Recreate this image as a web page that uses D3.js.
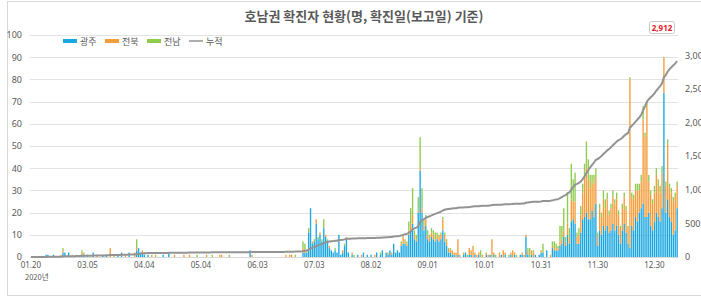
<!DOCTYPE html>
<html>
<head>
<meta charset="utf-8">
<script src="https://cdn.jsdelivr.net/npm/d3@7"></script>
<style>
  body { margin: 0; background: #fff; }
  text { font-family: "Noto Sans CJK KR", "Noto Sans", sans-serif; }
</style>
</head>
<body>
<div id="chart"></div>
<script>
// daily confirmed cases (categories are report days, index based)
var gwangju = [
  0,0,0,0,0,0,0,0,1,1, 0,0,1,0,0,0,0,2,2,0,
  2,0,0,0,0,0,0,1,1,0, 1,0,0,2,0,0,0,0,1,0,
  1,0,0,0,0,0,1,0,2,0, 0,0,2,0,0,0,3,4,2,2,
  1,0,1,0,0,0,0,0,0,0, 1,0,0,2,0,0,0,0,0,0,
  0,0,0,0,0,0,0,0,0,0, 0,0,0,0,0,0,0,0,0,0,
  0,0,0,0,0,0,0,0,0,0, 0,0,0,0,0,0,3,0,0,0,
  0,0,0,0,0,0,0,0,0,0, 0,0,0,0,0,0,0,0,0,0,
  0,0,0,0,
  2,2,2,11,22,6,7,15,8,10, 7,13,9,7,4,3,2,3,2,10,
  1,2,5,8,2,0,1,0,0,1, 0,0,2,0,1,0,1,0,0,2, 0,1,3,0,2,1,
  3,1,6,2,3,2,5,6,6,5, 10,12,15,8,7,20,39,20,12,14,
  8,7,9,8,7,8,7,8,12,7, 5,2,2,1,1,0,1,0,0,1,
  2,0,1,1,0,1,0,1,0,0, 0,1,0,1,0,1,0,0,0,1,
  0,1,0,0,1,0,1,0,0,1, 1,0,9,1,0,1,0,1,0,1,
  2,2,0,3,0,0,4,3,3,3, 5,6,9,5,10,6,16,17,15,6,
  6,11,17,18,20,17,17,21,18,24, 5,12,10,14,12,14,11,12,15,12,
  14,10,6,12,15,11,6,4,14,12, 18,16,20,22,24,18,18,20,14,12,
  16,20,18,16,22,74,20,26,18,16, 10,12,22
];
var jeonbuk = [
  0,0,0,0,0,0,0,0,0,0, 0,0,0,0,0,0,1,1,0,0,
  0,0,1,0,0,0,0,1,0,0, 0,0,0,0,0,1,0,0,0,0,
  0,0,4,0,0,0,0,0,0,0, 1,0,0,0,0,2,1,0,0,1,
  0,0,0,0,1,0,0,0,0,0, 0,0,0,0,0,0,1,0,0,0,
  0,1,0,0,1,0,0,0,0,0, 0,0,0,1,0,0,0,0,0,0,
  1,1,0,0,0,0,0,0,0,0, 0,0,0,0,0,0,0,1,0,0,
  0,0,0,0,0,0,0,0,0,0, 0,0,0,0,0,1,0,1,1,0,
  0,0,0,0,
  2,0,1,0,0,1,0,2,0,1, 0,0,1,0,1,0,0,0,0,0,
  0,1,0,1,0,0,1,0,0,0, 0,1,0,0,0,0,0,0,1,0, 0,0,0,0,0,1,
  0,1,0,0,0,0,1,3,1,1, 2,3,4,2,1,1,1,2,2,3,
  2,2,2,2,1,2,2,2,5,3, 2,2,1,2,1,2,7,1,0,1,
  0,0,3,2,5,1,1,1,0,1, 0,1,1,0,8,1,0,0,2,0,
  3,1,0,0,1,3,1,0,0,0, 1,1,1,2,0,2,2,0,0,0,
  1,0,0,0,0,1,1,1,1,1, 2,2,3,2,5,3,10,8,10,3,
  4,8,12,18,20,18,14,13,15,12, 5,10,8,12,10,12,8,10,12,12,
  12,9,7,10,12,10,7,76,13,14, 12,14,10,12,38,36,50,14,14,12,
  13,17,14,13,16,16,12,25,13,13, 15,15,10
];
var jeonnam = [
  0,0,0,0,0,0,0,0,0,0, 0,0,0,0,0,0,0,1,0,0,
  0,0,0,0,1,0,0,1,1,0, 0,0,0,0,0,0,0,0,0,0,
  0,0,0,0,1,0,0,0,0,0, 0,0,0,0,0,0,4,0,0,0,
  1,0,0,0,0,0,1,0,0,0, 0,0,0,0,0,0,0,0,0,0,
  0,0,0,0,0,0,0,0,1,0, 0,0,0,0,0,0,1,0,0,0,
  0,0,0,0,0,1,0,0,0,0, 0,0,0,0,0,0,0,0,0,0,
  0,0,0,0,0,0,0,0,0,0, 0,0,0,0,0,0,0,0,0,0,
  1,0,0,0,
  3,4,0,2,0,0,1,0,1,0, 1,4,0,1,0,0,0,1,0,0,
  0,0,1,0,0,0,0,1,0,0, 0,0,0,0,0,0,0,0,0,0, 0,1,0,0,0,0,
  0,0,0,0,0,0,1,1,1,1, 4,7,12,2,2,6,14,9,3,2,
  2,1,2,2,3,1,1,1,1,1, 1,0,1,0,0,0,0,0,0,0,
  0,1,0,0,0,0,0,0,3,0, 0,0,0,0,0,0,1,0,0,0,
  0,0,0,1,0,0,0,1,0,0, 0,0,0,1,4,0,1,0,0,0,
  0,4,0,0,0,0,2,3,2,1, 7,6,10,2,14,4,16,10,13,2,
  3,4,4,6,12,9,6,3,4,4, 1,2,2,4,4,3,2,2,3,2,
  3,2,1,2,2,2,1,1,2,2, 3,3,3,3,6,2,2,3,2,2,
  3,3,3,3,3,0,2,2,2,2, 2,2,2
];

// x tick labels, one every 30 categories
var tickLabels = ["01.20", "03.05", "04.04", "05.04", "06.03", "07.03",
  "08.02", "09.01", "10.01", "10.31", "11.30", "12.30"];
var tickStep = 30;
var leftTicks = [0, 10, 20, 30, 40, 50, 60, 70, 80, 90, 100];
var rightTicks = [0, 500, 1000, 1500, 2000, 2500, 3000];
var seriesNames = ["광주", "전북", "전남"];
var seriesColors = ["#1ba8e2", "#f59d3a", "#8fcb4f"];
var lineName = "누적";
var lastLabel = "2,912";

var width = 701;
var height = 297;

// plot box
var plotLeft = 30;
var plotRight = 678;
var plotTop = 35;
var plotBottom = 257;

var svg = d3
  .select("#chart")
  .append("svg")
  .attr("width", width)
  .attr("height", height);

// chart area border
svg
  .append("rect")
  .attr("x", 7.5)
  .attr("y", 1.5)
  .attr("width", 705)
  .attr("height", 294)
  .attr("fill", "#fff")
  .attr("stroke", "#d9d9d9");

// title
svg
  .append("text")
  .attr("x", 364)
  .attr("y", 21)
  .attr("text-anchor", "middle")
  .attr("font-size", 13)
  .attr("font-weight", "bold")
  .attr("fill", "#595959")
  .text("호남권 확진자 현황(명, 확진일(보고일) 기준)");

// stack the three regions
var rows = gwangju.map(function (d, i) {
  return { i: i, gj: gwangju[i], jb: jeonbuk[i], jn: jeonnam[i] };
});
var stacked = d3.stack().keys(["gj", "jb", "jn"])(rows);

// running total for the line
var cum = d3.cumsum(rows, function (d) {
  return d.gj + d.jb + d.jn;
});

var xScale = d3
  .scaleBand()
  .domain(d3.range(gwangju.length))
  .range([plotLeft, plotRight])
  .paddingInner(0.28)
  .paddingOuter(0.1);

var yScale = d3.scaleLinear().domain([0, 100]).range([plotBottom, plotTop]);
var y2Scale = d3.scaleLinear().domain([0, 3300]).range([plotBottom, plotTop]);

// gridlines
svg
  .append("g")
  .selectAll("line")
  .data(leftTicks)
  .enter()
  .append("line")
  .attr("x1", plotLeft)
  .attr("x2", plotRight)
  .attr("y1", function (d) { return Math.round(yScale(d)) + 0.5; })
  .attr("y2", function (d) { return Math.round(yScale(d)) + 0.5; })
  .attr("stroke", "#e3e3e3");

// left axis
var yAxis = d3.axisLeft(yScale).tickValues(leftTicks).tickSize(0).tickPadding(0);
svg
  .append("g")
  .attr("class", "yAxis")
  .attr("transform", "translate(22,0)")
  .call(yAxis)
  .call(function (g) { g.select(".domain").remove(); });

// right axis (labels run past the edge, as in the source)
var y2Axis = d3
  .axisRight(y2Scale)
  .tickValues(rightTicks)
  .tickSize(0)
  .tickPadding(0)
  .tickFormat(d3.format(","));
svg
  .append("g")
  .attr("class", "yAxis")
  .attr("transform", "translate(685,0)")
  .call(y2Axis)
  .call(function (g) { g.select(".domain").remove(); });

svg
  .selectAll(".yAxis text")
  .attr("font-size", 9)
  .attr("fill", "#595959")
  .style("font-family", "\"Noto Sans\", sans-serif");

// bars
var layers = svg
  .append("g")
  .selectAll("g")
  .data(stacked)
  .enter()
  .append("g")
  .attr("fill", function (d, k) { return seriesColors[k]; });

layers
  .selectAll("rect")
  .data(function (d) { return d; })
  .enter()
  .append("rect")
  .attr("x", function (d) { return xScale(d.data.i); })
  .attr("width", xScale.bandwidth())
  .attr("y", function (d) { return yScale(d[1]); })
  .attr("height", function (d) { return yScale(d[0]) - yScale(d[1]); });

// x axis
var xAxis = d3
  .axisBottom(xScale)
  .tickValues(d3.range(0, gwangju.length, tickStep))
  .tickSize(0)
  .tickPadding(5)
  .tickFormat(function (d) { return tickLabels[d / tickStep]; });
svg
  .append("g")
  .attr("class", "xAxis")
  .attr("transform", "translate(0," + plotBottom + ")")
  .call(xAxis)
  .call(function (g) { g.select(".domain").attr("stroke", "#d9d9d9"); });

svg
  .selectAll(".xAxis text")
  .attr("font-size", 8)
  .attr("fill", "#595959")
  .style("font-family", "\"Noto Sans\", sans-serif");

svg
  .append("text")
  .attr("x", 25)
  .attr("y", 280)
  .attr("font-size", 7.5)
  .attr("fill", "#595959")
  .text("2020년");

// cumulative line on the right axis
var line = d3
  .line()
  .x(function (d, i) { return xScale(i) + xScale.bandwidth() / 2; })
  .y(function (d) { return y2Scale(d); });

svg
  .append("path")
  .datum(Array.from(cum))
  .attr("d", line)
  .attr("fill", "none")
  .attr("stroke", "#939393")
  .attr("stroke-width", 2);

// label of the last total
var lab = svg.append("g").attr("transform", "translate(662,28)");
lab
  .append("rect")
  .attr("x", -12.5)
  .attr("y", -6.5)
  .attr("width", 25)
  .attr("height", 12)
  .attr("rx", 2)
  .attr("fill", "#fff")
  .attr("stroke", "#c8c8c8");
lab
  .append("text")
  .attr("y", 3)
  .attr("text-anchor", "middle")
  .attr("font-size", 8)
  .attr("font-weight", "bold")
  .attr("fill", "#e8202a")
  .style("font-family", "\"Noto Sans\", sans-serif")
  .text(lastLabel);

// legend
var legend = svg.append("g").attr("transform", "translate(63,41)");
seriesNames.forEach(function (name, k) {
  var gx = k * 42;
  legend
    .append("rect")
    .attr("x", gx)
    .attr("y", -2)
    .attr("width", 14)
    .attr("height", 4)
    .attr("fill", seriesColors[k]);
  legend
    .append("text")
    .attr("x", gx + 17)
    .attr("y", 3.5)
    .attr("font-size", 9)
    .attr("fill", "#595959")
    .text(name);
});
legend
  .append("line")
  .attr("x1", 126)
  .attr("x2", 140)
  .attr("y1", 0)
  .attr("y2", 0)
  .attr("stroke", "#939393")
  .attr("stroke-width", 1.5);
legend
  .append("text")
  .attr("x", 143)
  .attr("y", 3.5)
  .attr("font-size", 9)
  .attr("fill", "#595959")
  .text(lineName);
</script>
</body>
</html>
